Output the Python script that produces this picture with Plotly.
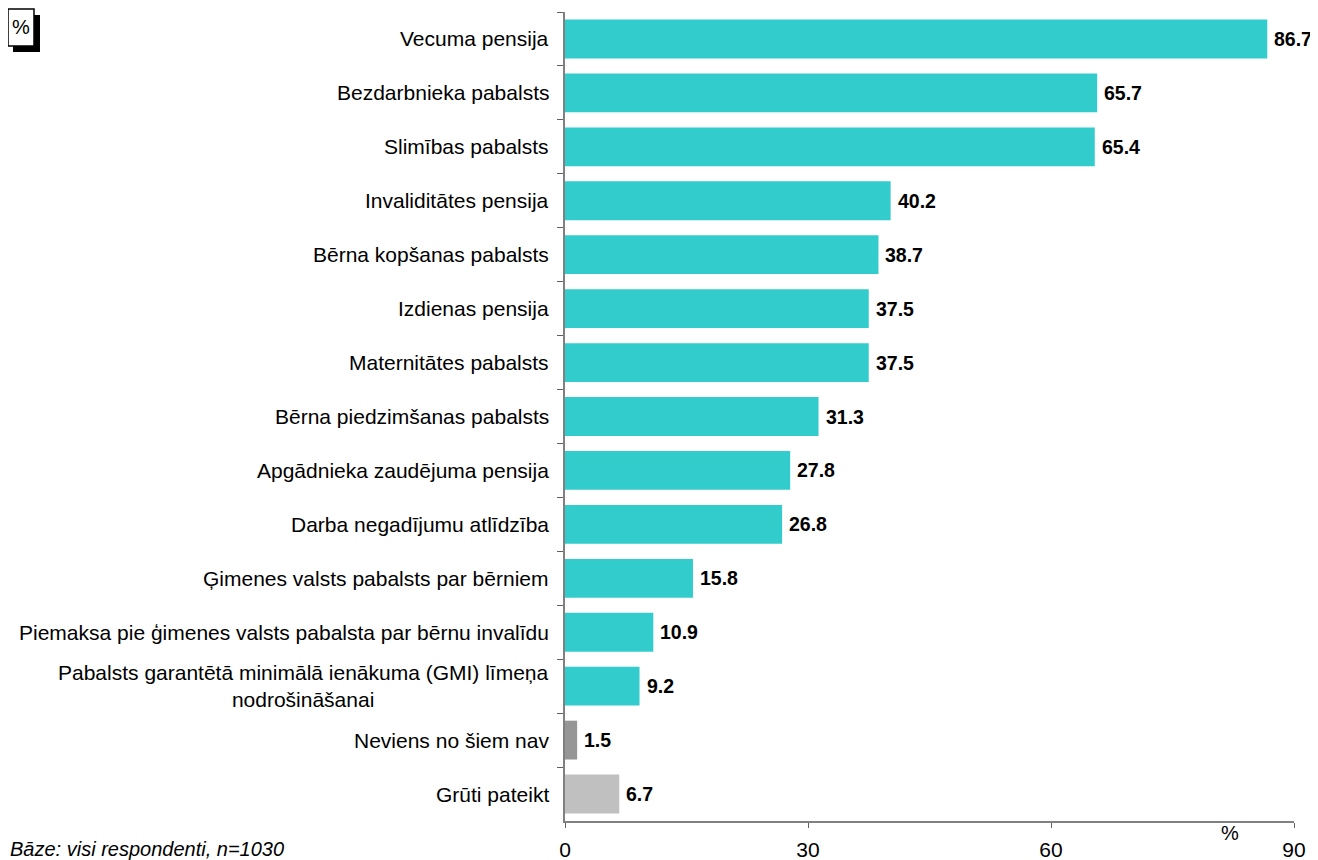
import plotly.graph_objects as go

categories = [
    "Vecuma pensija",
    "Bezdarbnieka pabalsts",
    "Slimības pabalsts",
    "Invaliditātes pensija",
    "Bērna kopšanas pabalsts",
    "Izdienas pensija",
    "Maternitātes pabalsts",
    "Bērna piedzimšanas pabalsts",
    "Apgādnieka zaudējuma pensija",
    "Darba negadījumu atlīdzība",
    "Ģimenes valsts pabalsts par bērniem",
    "Piemaksa pie ģimenes valsts pabalsta par bērnu invalīdu",
    "Pabalsts garantētā minimālā ienākuma (GMI) līmeņa<br>nodrošināšanai",
    "Neviens no šiem nav",
    "Grūti pateikt",
]
values = [86.7, 65.7, 65.4, 40.2, 38.7, 37.5, 37.5, 31.3, 27.8, 26.8, 15.8, 10.9, 9.2, 1.5, 6.7]
colors = ["#33CCCC"] * 13 + ["#969696", "#C0C0C0"]
x_ticks = [0, 30, 60, 90]
footnote = "Bāze: visi respondenti, n=1030"

FONT = "Liberation Sans, Arial, sans-serif"
OFF = 8  # default page body margin
PAGE_W, PAGE_H = 1318, 860
PLOT_L, PLOT_R, PLOT_T, PLOT_B = 565, 1294, 12, 821  # page pixels of plot area
W, H = PAGE_W - OFF, PAGE_H - OFF
L, R, T, B = PLOT_L - OFF, PAGE_W - PLOT_R, PLOT_T - OFF, PAGE_H - PLOT_B
pw, ph = PLOT_R - PLOT_L, PLOT_B - PLOT_T

def px_x(p):
    return (p - PLOT_L) / pw

def px_y(p):
    return (PLOT_B - p) / ph

fig = go.Figure()
fig.add_trace(go.Bar(
    x=values, y=categories, orientation="h",
    marker=dict(color=colors, line=dict(width=0)),
    hoverinfo="skip",
))

annotations = []
for c, v in zip(categories, values):
    annotations.append(dict(
        x=v, y=c, xref="x", yref="y", text=f"<b>{v:.1f}</b>",
        showarrow=False, xanchor="left", yanchor="middle", xshift=6,
        borderpad=0,
        font=dict(family=FONT, size=19.5, color="black"),
    ))
    annotations.append(dict(
        x=0, y=c, xref="paper", yref="y", text=c, align="center",
        showarrow=False, xanchor="right", yanchor="middle", xshift=-14,
        font=dict(family=FONT, size=21, color="black"),
    ))

annotations.append(dict(
    x=px_x(1230), y=px_y(833), xref="paper", yref="paper", text="%",
    showarrow=False, xanchor="center", yanchor="middle",
    font=dict(family=FONT, size=20, color="black"),
))
annotations.append(dict(
    x=px_x(8), y=px_y(849), xref="paper", yref="paper", text=footnote,
    showarrow=False, xanchor="left", yanchor="middle",
    font=dict(family=FONT, size=20, color="black", style="italic"),
))
annotations.append(dict(
    x=px_x(21), y=px_y(27.5), xref="paper", yref="paper", text="%",
    showarrow=False, xanchor="center", yanchor="middle",
    font=dict(family=FONT, size=20, color="black"),
))

shapes = [
    dict(type="rect", xref="paper", yref="paper",
         x0=px_x(13), x1=px_x(40), y0=px_y(15), y1=px_y(52),
         fillcolor="black", line=dict(width=0), layer="below"),
    dict(type="rect", xref="paper", yref="paper",
         x0=px_x(8), x1=px_x(34), y0=px_y(9), y1=px_y(46),
         fillcolor="white", line=dict(color="black", width=1.5), layer="below"),
]

fig.update_layout(
    width=W, height=H,
    margin=dict(l=L, r=R, t=T, b=B, pad=0, autoexpand=False),
    paper_bgcolor="white", plot_bgcolor="white",
    showlegend=False, bargap=0.28,
    font=dict(family=FONT, size=21, color="black"),
    annotations=annotations, shapes=shapes,
    xaxis=dict(
        range=[0, 90], tickvals=x_ticks, ticktext=[str(t) for t in x_ticks],
        showgrid=False, zeroline=False, showline=True,
        linecolor="#808080", linewidth=1.5,
        ticks="outside", ticklen=5, tickcolor="#606060", tickwidth=1,
        tickfont=dict(family=FONT, size=21, color="black"),
        ticklabelstandoff=4, automargin=False, fixedrange=True,
    ),
    yaxis=dict(
        categoryorder="array", categoryarray=categories,
        range=[len(categories) - 0.5, -0.5],
        showgrid=False, zeroline=False, showline=True,
        linecolor="#808080", linewidth=1.5,
        ticks="outside", ticklen=6, tickcolor="#606060", tickwidth=1,
        tickson="boundaries", showticklabels=False, automargin=False,
        fixedrange=True,
    ),
)

fig.write_html("out.html")
